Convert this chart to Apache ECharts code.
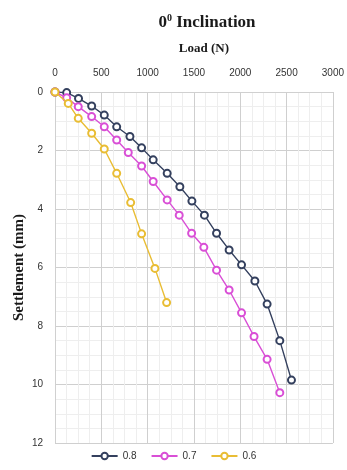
<!DOCTYPE html>
<html>
<head>
<meta charset="utf-8">
<script src="https://cdn.jsdelivr.net/npm/echarts@6/dist/echarts.min.js"></script>
<style>html,body{margin:0;padding:0;background:#fff}#c{width:347px;height:470px}</style>
</head>
<body>
<div id="c"></div>
<script>
var seriesNames = ['0.8', '0.7', '0.6'];
var load08 = [0, 126, 254, 396, 532, 666, 809, 935, 1060, 1211, 1348, 1478, 1613, 1744, 1880, 2014, 2158, 2290, 2427, 2553];
var settle08 = [0, 0.02, 0.22, 0.48, 0.79, 1.19, 1.52, 1.91, 2.32, 2.78, 3.24, 3.73, 4.21, 4.83, 5.40, 5.91, 6.46, 7.25, 8.50, 9.85];
var load07 = [0, 126, 251, 396, 532, 666, 791, 935, 1060, 1211, 1341, 1475, 1607, 1744, 1880, 2014, 2149, 2290, 2427];
var settle07 = [0, 0.2, 0.50, 0.84, 1.19, 1.64, 2.07, 2.53, 3.06, 3.69, 4.21, 4.83, 5.31, 6.09, 6.77, 7.55, 8.36, 9.14, 10.28];
var load06 = [0, 143, 251, 396, 532, 666, 817, 935, 1079, 1205];
var settle06 = [0, 0.39, 0.90, 1.41, 1.95, 2.78, 3.78, 4.85, 6.03, 7.2];
var xTicks = [0, 500, 1000, 1500, 2000, 2500, 3000];
var yTicks = [0, 2, 4, 6, 8, 10, 12];
var colors = ['#34405e', '#d94fd6', '#e9bd34'];

function pairs(xs, ys) { return xs.map(function (x, i) { return [x, ys[i]]; }); }
var datasets = [pairs(load08, settle08), pairs(load07, settle07), pairs(load06, settle06)];

var chart = echarts.init(document.getElementById('c'));
chart.setOption({
  animation: false,
  backgroundColor: '#ffffff',
  title: {
    text: '0{sup|0} Inclination',
    left: 202, top: 8, textAlign: 'center',
    textStyle: {
      fontFamily: 'Liberation Serif', fontWeight: 'bold', fontSize: 17, color: '#1a1a1a',
      rich: { sup: { fontFamily: 'Liberation Serif', fontWeight: 'bold', fontSize: 10, verticalAlign: 'top', padding: [0, 0, 9, 0], color: '#1a1a1a' } }
    }
  },
  legend: {
    bottom: 4, left: 'center',
    data: seriesNames,
    itemWidth: 26, itemHeight: 8, itemGap: 14,
    textStyle: { fontFamily: 'Liberation Sans Narrow, Liberation Sans', fontSize: 10, color: '#333' }
  },
  grid: { left: 55, right: 14, top: 92, bottom: 27, containLabel: false },
  xAxis: {
    type: 'value', position: 'top', min: xTicks[0], max: xTicks[xTicks.length - 1], interval: 500,
    name: 'Load (N)', nameLocation: 'middle', nameGap: 37,
    nameTextStyle: { fontFamily: 'Liberation Serif', fontWeight: 'bold', fontSize: 13, color: '#1a1a1a', padding: [0, 0, 0, 20] },
    axisLine: { show: true, lineStyle: { color: '#d0d0d0' } },
    axisTick: { show: false },
    axisLabel: { fontFamily: 'Liberation Sans Narrow, Liberation Sans', fontSize: 10, color: '#333', margin: 14,
      formatter: function (v) { return String(v); } },
    splitLine: { show: true, lineStyle: { color: '#cfcfcf', width: 1 } },
    minorTick: { show: false, splitNumber: 4 },
    minorSplitLine: { show: true, lineStyle: { color: '#eeeeee', width: 1 } }
  },
  yAxis: {
    type: 'value', inverse: true, min: yTicks[0], max: yTicks[yTicks.length - 1], interval: 2,
    name: 'Settlement (mm)', nameLocation: 'middle', nameGap: 28, nameRotate: 90, nameMoveOverlap: false,
    nameTextStyle: { fontFamily: 'Liberation Serif', fontWeight: 'bold', fontSize: 15, color: '#1a1a1a' },
    axisLine: { show: true, lineStyle: { color: '#d0d0d0' } },
    axisTick: { show: false },
    axisLabel: { fontFamily: 'Liberation Sans Narrow, Liberation Sans', fontSize: 10, color: '#333', margin: 12 },
    splitLine: { show: true, lineStyle: { color: '#cfcfcf', width: 1 } },
    minorTick: { show: false, splitNumber: 4 },
    minorSplitLine: { show: true, lineStyle: { color: '#eeeeee', width: 1 } }
  },
  series: seriesNames.map(function (n, i) {
    return {
      name: n, type: 'line', data: datasets[i],
      symbol: 'emptyCircle', symbolSize: 7, showAllSymbol: true,
      itemStyle: { color: colors[i], borderWidth: 1.5 },
      lineStyle: { color: colors[i], width: 1.4 },
      z: 2 + i
    };
  })
});
</script>
</body>
</html>
